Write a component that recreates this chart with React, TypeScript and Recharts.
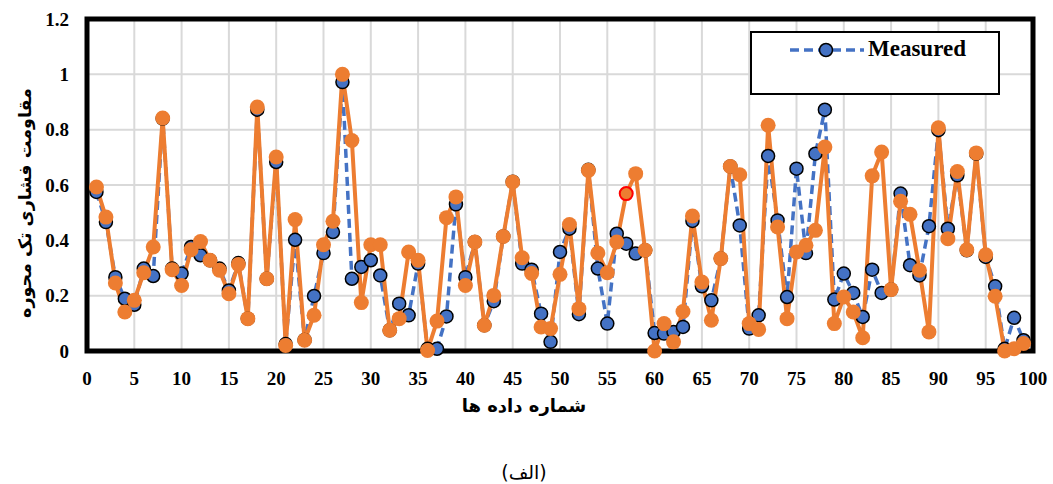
import { LineChart, Line, XAxis, YAxis, CartesianGrid, ReferenceArea, Legend } from 'recharts';

// Uniaxial compressive strength, normalised, for data numbers 1..99
const MEASURED = [
  0.575, 0.466, 0.267, 0.189, 0.167, 0.298, 0.271, 0.84, 0.298, 0.28,
  0.376, 0.346, 0.328, 0.298, 0.219, 0.318, 0.117, 0.872, 0.261, 0.683,
  0.025, 0.402, 0.04, 0.199, 0.354, 0.43, 0.972, 0.261, 0.304, 0.328,
  0.273, 0.075, 0.171, 0.129, 0.316, 0.008, 0.008, 0.125, 0.53, 0.267,
  0.394, 0.093, 0.18, 0.414, 0.612, 0.316, 0.294, 0.135, 0.033, 0.358,
  0.442, 0.133, 0.655, 0.298, 0.099, 0.424, 0.388, 0.352, 0.364, 0.065,
  0.063, 0.069, 0.087, 0.47, 0.234, 0.183, 0.334, 0.667, 0.454, 0.081,
  0.129, 0.705, 0.472, 0.195, 0.659, 0.354, 0.713, 0.872, 0.186, 0.28,
  0.21, 0.123, 0.294, 0.21, 0.222, 0.569, 0.31, 0.273, 0.451, 0.798,
  0.442, 0.635, 0.364, 0.713, 0.34, 0.234, 0.008, 0.12, 0.039,
];

const PREDICTED = [
  0.593, 0.484, 0.246, 0.141, 0.183, 0.283, 0.376, 0.842, 0.294, 0.237,
  0.366, 0.396, 0.328, 0.292, 0.207, 0.313, 0.117, 0.882, 0.261, 0.701,
  0.02, 0.475, 0.039, 0.129, 0.384, 0.469, 1.0, 0.761, 0.175, 0.384,
  0.384, 0.075, 0.117, 0.358, 0.328, 0.002, 0.108, 0.482, 0.557, 0.237,
  0.394, 0.093, 0.201, 0.414, 0.611, 0.337, 0.28, 0.087, 0.081, 0.277,
  0.457, 0.153, 0.653, 0.354, 0.283, 0.394, 0.569, 0.641, 0.364, 0.0,
  0.099, 0.033, 0.143, 0.488, 0.249, 0.111, 0.334, 0.667, 0.637, 0.099,
  0.078, 0.816, 0.448, 0.117, 0.358, 0.382, 0.436, 0.737, 0.099, 0.195,
  0.141, 0.048, 0.633, 0.719, 0.222, 0.541, 0.494, 0.292, 0.069, 0.807,
  0.406, 0.649, 0.366, 0.716, 0.348, 0.198, 0.0, 0.008, 0.027,
];

const X_TICKS = [0, 5, 10, 15, 20, 25, 30, 35, 40, 45, 50, 55, 60, 65, 70, 75, 80, 85, 90, 95, 100];
const Y_TICKS = [0, 0.2, 0.4, 0.6, 0.8, 1, 1.2];

// data number whose predicted marker is outlined in red
const HIGHLIGHT_N = 57;

const data = MEASURED.map((m, i) => ({ n: i + 1, measured: m, predicted: PREDICTED[i] }));

const BLUE = '#4472C4';
const ORANGE = '#ED7D31';
const FONT = '"Liberation Serif", "Times New Roman", serif';
const FA_FONT = '"DejaVu Sans", sans-serif';

const W = 1053;
const H = 484;

function MeasuredDot(props: any) {
  const { cx, cy, index } = props;
  if (cx == null || cy == null) return null;
  return <circle key={`m-${index}`} cx={cx} cy={cy} r={6.5} fill={BLUE} stroke="#000" strokeWidth={1.5} />;
}

function PredictedDot(props: any) {
  const { cx, cy, index, payload } = props;
  if (cx == null || cy == null) return null;
  const hot = payload && payload.n === HIGHLIGHT_N;
  return (
    <circle
      key={`p-${index}`}
      cx={cx}
      cy={cy}
      r={hot ? 6.5 : 7.5}
      fill={ORANGE}
      stroke={hot ? '#FF0000' : ORANGE}
      strokeWidth={hot ? 2 : 0}
    />
  );
}

function LegendBox() {
  return (
    <div style={{ width: 246, height: 60, border: '2px solid #000', background: '#fff', position: 'relative' }}>
      <svg width={74} height={20} style={{ position: 'absolute', left: 38, top: 7 }}>
        <line x1={0} y1={10} x2={74} y2={10} stroke={BLUE} strokeWidth={3.5} strokeDasharray="9 5" />
        <circle cx={36} cy={10} r={6.5} fill={BLUE} stroke="#000" strokeWidth={1.5} />
      </svg>
      <span
        style={{
          position: 'absolute',
          left: 116,
          top: 3,
          fontFamily: FONT,
          fontWeight: 700,
          fontSize: 23,
          color: '#000',
          whiteSpace: 'nowrap',
        }}
      >
        Measured
      </span>
    </div>
  );
}

export default function App() {
  return (
    <div style={{ position: 'absolute', left: 0, top: 0, width: W, height: H, background: '#fff' }}>
      <LineChart width={W} height={H} data={data} margin={{ top: 19, right: 20, bottom: 0, left: 0 }}>
        <CartesianGrid stroke="#d9d9d9" strokeWidth={2} />
        <XAxis
          type="number"
          dataKey="n"
          domain={[0, 100]}
          ticks={X_TICKS}
          height={133}
          axisLine={false}
          tickLine={false}
          tickMargin={15}
          tick={{ fontSize: 19, fontWeight: 700, fill: '#000', fontFamily: FONT }}
        />
        <YAxis
          type="number"
          domain={[0, 1.2]}
          ticks={Y_TICKS}
          width={87}
          axisLine={false}
          tickLine={false}
          tickMargin={12}
          tickFormatter={(v: number) => String(Number(v.toFixed(1)))}
          tick={{ fontSize: 19, fontWeight: 700, fill: '#000', fontFamily: FONT }}
        />
        <ReferenceArea x1={0} x2={100} y1={0} y2={1.2} fill="none" stroke="#000" strokeWidth={5} />
        <Legend
          layout="horizontal"
          verticalAlign="middle"
          align="center"
          content={() => <LegendBox />}
          wrapperStyle={{ position: 'absolute', left: 750, top: 31, width: 250, height: 64 }}
        />
        <Line
          name="Measured"
          dataKey="measured"
          stroke={BLUE}
          strokeWidth={3.5}
          strokeDasharray="9 5"
          dot={MeasuredDot}
          activeDot={false}
          isAnimationActive={false}
        />
        <Line
          name="Predicted"
          dataKey="predicted"
          stroke={ORANGE}
          strokeWidth={4}
          dot={PredictedDot}
          activeDot={false}
          legendType="none"
          isAnimationActive={false}
        />
      </LineChart>

      {/* axis titles and caption */}
      <div
        style={{
          position: 'absolute',
          left: 25,
          top: 203,
          transform: 'translate(-50%, -50%) rotate(-90deg)',
          fontFamily: FA_FONT,
          fontWeight: 700,
          fontSize: 17.5,
          direction: 'rtl',
          whiteSpace: 'nowrap',
          color: '#000',
        }}
      >
        مقاومت فشاری تک محوره
      </div>
      <div
        style={{
          position: 'absolute',
          left: 524,
          top: 405,
          transform: 'translate(-50%, -50%)',
          fontFamily: FA_FONT,
          fontWeight: 700,
          fontSize: 18,
          direction: 'rtl',
          whiteSpace: 'nowrap',
          color: '#000',
        }}
      >
        شماره داده ها
      </div>
      <div
        style={{
          position: 'absolute',
          left: 524,
          top: 472,
          transform: 'translate(-50%, -50%)',
          fontFamily: FA_FONT,
          fontSize: 19,
          direction: 'rtl',
          whiteSpace: 'nowrap',
          color: '#000',
        }}
      >
        (الف)
      </div>
    </div>
  );
}
